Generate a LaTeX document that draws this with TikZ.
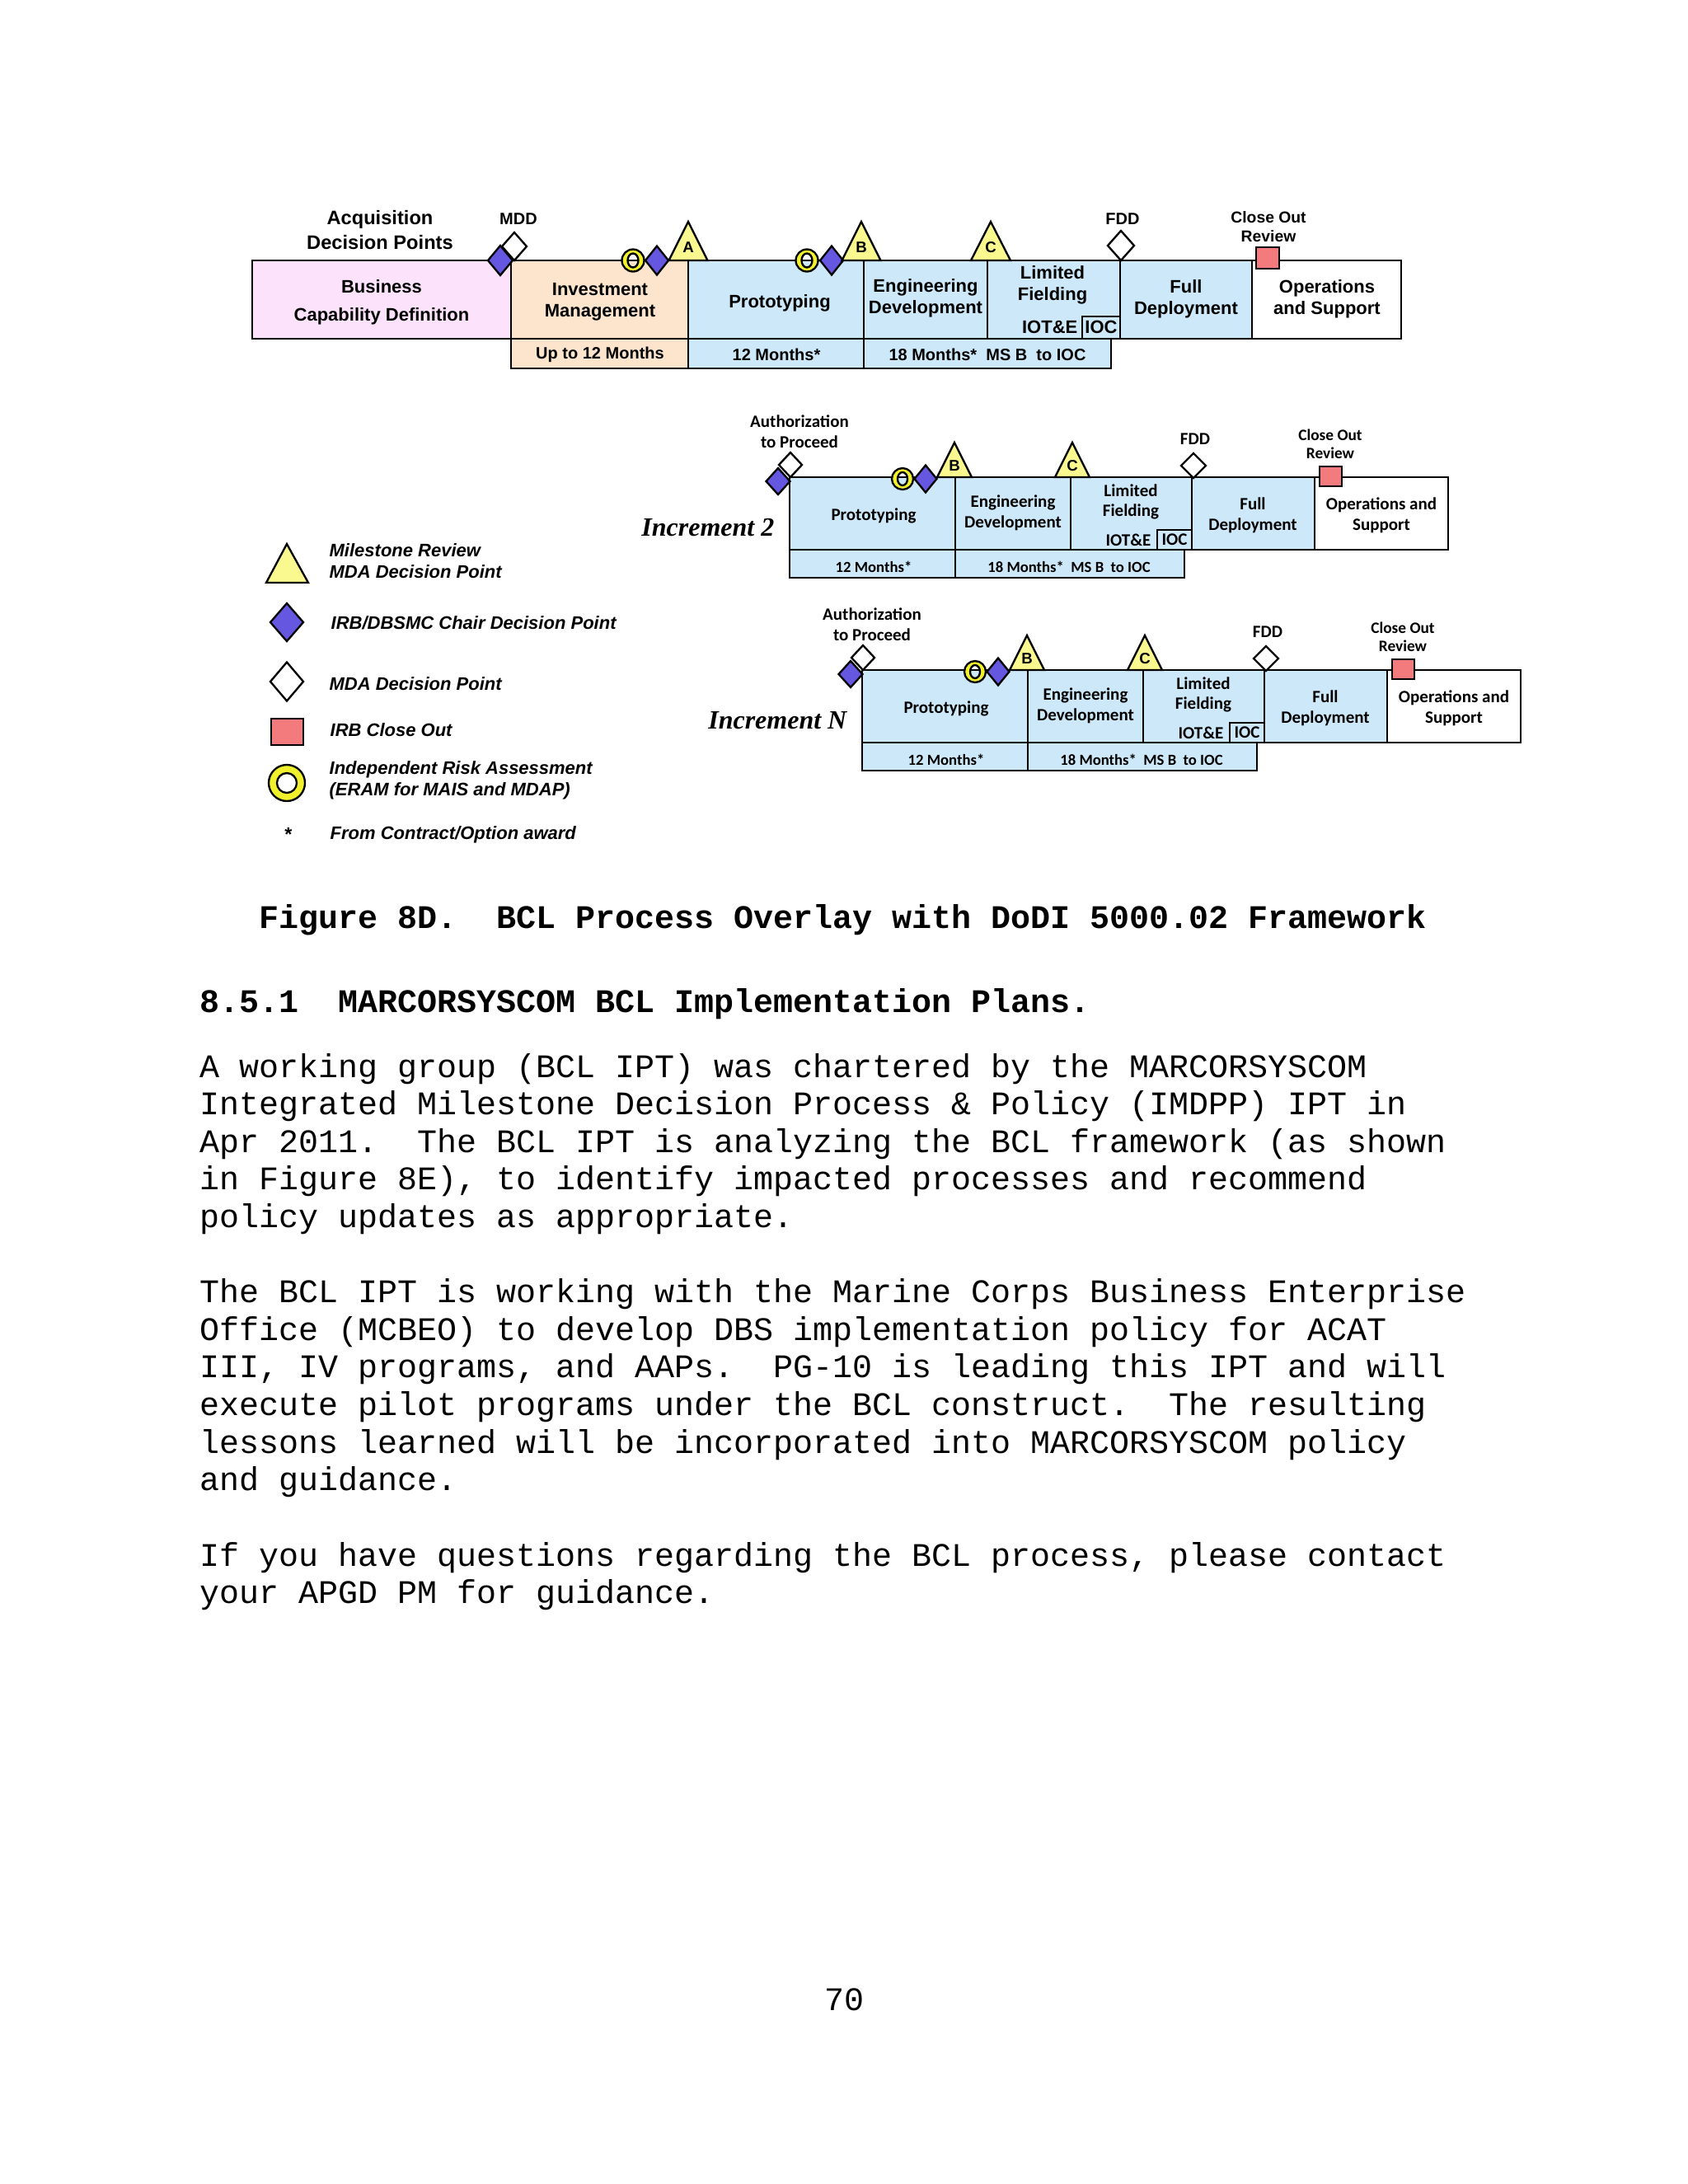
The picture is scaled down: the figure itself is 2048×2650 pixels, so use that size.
\documentclass[tikz,border=0pt]{standalone}
\usepackage{fontspec}
\usepackage{xcolor}
\setmainfont{Liberation Serif}
\newfontfamily\arialf{Liberation Sans}
\newfontfamily\califf{Carlito}
\newfontfamily\timesf{Liberation Serif}
\newfontfamily\courf{Liberation Mono}
\frenchspacing
\definecolor{pinkph}{HTML}{FDE2FB}
\definecolor{peachph}{HTML}{FCE4CD}
\definecolor{blueph}{HTML}{CCE8F9}
\definecolor{msyellow}{HTML}{FAF98F}
\definecolor{irayellow}{HTML}{F0F02C}
\definecolor{irbblue}{HTML}{6657E0}
\definecolor{closered}{HTML}{F37B7D}

% milestone triangle: x, base y, half width, height, letter
\newcommand{\mstri}[5]{%
  \draw[mstri] (#1-#3,#2) -- (#1,#2-#4) -- (#1+#3,#2) -- cycle;
  \node[mslab] (ms#5) at (#1,#2-0.33*#4) {#5};}
% decision diamond: style, x, y, half width, half height
\newcommand{\dpt}[5]{\draw[#1] (#2-#4,#3) -- (#2,#3-#5) -- (#2+#4,#3) -- (#2,#3+#5) -- cycle;}
% risk assessment ring: x, y, outer r, inner x r, inner y r
\newcommand{\iraring}[5]{\draw[iraring] (#1,#2) circle[radius=#3] (#1,#2) ellipse[x radius=#4, y radius=#5];}

\begin{document}
\begin{tikzpicture}[x=0.010542cm,y=-0.010542cm,
  box/.style={draw=black,line width=0.8pt},
  mstri/.style={draw=black,line width=0.7pt,fill=msyellow},
  mslab/.style={font=\arialf\bfseries\fontsize{5.6}{6.5}\selectfont,inner sep=0pt},
  irbdp/.style={draw=black,line width=0.7pt,fill=irbblue},
  mdadp/.style={draw=black,line width=0.7pt,fill=white},
  iraring/.style={draw=black,line width=0.7pt,fill=irayellow,even odd rule},
  closesq/.style={draw=black,line width=0.7pt,fill=closered},
  phtxt/.style={font=\arialf\bfseries\fontsize{6.6}{7.8}\selectfont,align=center,inner sep=0pt},
  mtxt/.style={font=\arialf\bfseries\fontsize{6}{7}\selectfont,inner sep=0pt},
  inctxt/.style={font=\califf\bfseries\fontsize{6.3}{7.4}\selectfont,align=center,inner sep=0pt},
  incmtxt/.style={font=\califf\bfseries\fontsize{5.6}{6.5}\selectfont,inner sep=0pt},
  inclab/.style={font=\timesf\bfseries\itshape\fontsize{9.6}{11}\selectfont,inner sep=0pt,anchor=east},
  legtxt/.style={font=\arialf\bfseries\itshape\fontsize{6.6}{7.8}\selectfont,align=left,anchor=west,inner sep=0pt},
  bodytxt/.style={font=\courf\fontsize{12}{13.65}\selectfont,anchor=base west,inner sep=0pt}]
\useasboundingbox (0,0) rectangle (2048,2650);
\fill[white] (0,0) rectangle (2048,2650);

% top row: DoDI phases
\foreach \xa/\xb/\col in {306/620/pinkph,620/835/peachph,835/1048/blueph,1048/1198/blueph,1198/1359/blueph,1359/1519/blueph,1519/1700/white}
  \draw[box,fill=\col] (\xa,316) rectangle (\xb,411);
\foreach \xa/\xb/\col in {620/835/peachph,835/1048/blueph,1048/1348/blueph}
  \draw[box,fill=\col] (\xa,411) rectangle (\xb,447);
\draw[box] (1313,384) rectangle (1359,411);
\node[phtxt,font=\arialf\bfseries\fontsize{7.1}{9}\selectfont] (acq) at (461,279) {Acquisition\\Decision Points};
\node[mtxt] (mdd) at (629,266) {MDD};
\node[phtxt] (bus) at (463,367) {Business\\[2.4pt]Capability Definition};
\node[phtxt] (inv) at (728,366) {Investment\\Management};
\node[phtxt] (proto) at (946,368) {Prototyping};
\node[phtxt] (eng) at (1123,362) {Engineering\\Development};
\node[phtxt] (lf) at (1277,346) {Limited\\Fielding};
\node[phtxt,anchor=east] (iote) at (1308,397) {IOT\&E};
\node[phtxt] (ioc) at (1336,397) {IOC};
\node[phtxt] (fd) at (1439,363) {Full\\Deployment};
\node[phtxt] (os) at (1610,363) {Operations\\and Support};
\node[mtxt] (m1) at (728,430) {Up to 12 Months};
\node[mtxt] (m2) at (942,430) {12 Months*};
\node[mtxt] (m3) at (1198,430) {18 Months*~~MS B~~to IOC};
\node[mtxt] (fdd) at (1362,266) {FDD};
\node[mtxt,align=center,font=\arialf\bfseries\fontsize{5.8}{6.9}\selectfont] (cor) at (1539,275) {Close Out\\Review};
\dpt{mdadp}{624}{299}{15}{17}
\dpt{irbdp}{607}{316}{15}{18}
\iraring{768}{316}{13.5}{6.5}{8.5}
\dpt{irbdp}{797}{316}{14}{17.5}
\mstri{835}{316}{23.5}{47}{A}
\iraring{979}{316}{13.5}{6.5}{8.5}
\dpt{irbdp}{1009}{316}{14}{17.5}
\mstri{1045}{316}{23.5}{47}{B}
\mstri{1202}{316}{24}{47}{C}
\dpt{mdadp}{1360}{298}{16}{18}
\draw[closesq] (1524,300) rectangle (1552,326);

% increments 2 and N
\foreach \dx/\dy/\inc in {0/0/2,88/234/N}{
\begin{scope}[shift={(\dx,\dy)}]
  \foreach \xa/\xb/\col in {958/1159/blueph,1159/1299/blueph,1299/1446/blueph,1446/1595/blueph,1595/1757/white}
    \draw[box,fill=\col] (\xa,579) rectangle (\xb,667);
  \foreach \xa/\xb in {958/1159,1159/1437}
    \draw[box,fill=blueph] (\xa,667) rectangle (\xb,701);
  \draw[box] (1404,643) rectangle (1446,667);
  \dpt{mdadp}{959}{564}{14}{15}
  \dpt{irbdp}{944}{584}{14.5}{16}
  \iraring{1095}{581}{13}{6}{8}
  \dpt{irbdp}{1123}{581}{13.5}{16.5}
  \mstri{1158}{579}{21}{42}{B}
  \mstri{1301}{579}{21}{42}{C}
  \dpt{mdadp}{1448}{565}{15}{15}
  \draw[closesq] (1601,566) rectangle (1628,590);
  \node[inclab] (inc\inc) at (940,640) {Increment \inc};
  \node[inctxt] (auth\inc) at (970,524) {Authorization\\to Proceed};
  \node[inctxt] (proto\inc) at (1060,626) {Prototyping};
  \node[inctxt] (eng\inc) at (1229,622) {Engineering\\Development};
  \node[inctxt] (lf\inc) at (1372,609) {Limited\\Fielding};
  \node[inctxt,anchor=east] (iote\inc) at (1397,655) {IOT\&E};
  \node[inctxt] (ioc\inc) at (1425,655) {IOC};
  \node[inctxt] (fd\inc) at (1520,625) {Full\\Deployment};
  \node[inctxt] (os\inc) at (1676,625) {Operations and\\Support};
  \node[incmtxt] (ma\inc) at (1060,688) {12 Months*};
  \node[incmtxt] (mb\inc) at (1297,688) {18 Months*~~MS B~~to IOC};
  \node[inctxt] (fdd\inc) at (1450,533) {FDD};
  \node[inctxt,font=\califf\bfseries\fontsize{5.8}{6.6}\selectfont] (cor\inc) at (1614,539) {Close Out\\Review};
\end{scope}}

% legend
\draw[mstri] (323,707) -- (348,660) -- (374,707) -- cycle;
\dpt{irbdp}{348}{755}{20}{23}
\dpt{mdadp}{348}{827}{20}{23.5}
\draw[closesq] (329,872) rectangle (368,904);
\iraring{348}{950}{22}{12}{12}
\node[legtxt] (lgms) at (399,681) {Milestone Review\\MDA Decision Point};
\node[legtxt] (lgirb) at (401,756) {IRB/DBSMC Chair Decision Point};
\node[legtxt] (lgmda) at (399,830) {MDA Decision Point};
\node[legtxt] (lgclose) at (400,886) {IRB Close Out};
\node[legtxt] (lgira) at (399,947) {Independent Risk Assessment\\(ERAM for MAIS and MDAP)};
\node[legtxt,font=\arialf\bfseries\fontsize{7}{8}\selectfont,anchor=center] (lgstar) at (350,1012) {*};
\node[legtxt] (lgcontract) at (400,1013) {From Contract/Option award};

% caption, heading and body text
\node[bodytxt,font=\courf\bfseries\fontsize{12}{13.65}\selectfont] (caption) at (314,1126) {Figure 8D.~~BCL Process Overlay with DoDI 5000.02 Framework};
\node[bodytxt,font=\courf\bfseries\fontsize{12}{13.65}\selectfont] (heading) at (242,1228) {8.5.1~~MARCORSYSCOM BCL Implementation Plans.};
\foreach \k/\t in {0/{A working group (BCL IPT) was chartered by the MARCORSYSCOM},
  1/{Integrated Milestone Decision Process \& Policy (IMDPP) IPT in},
  2/{Apr 2011.~~The BCL IPT is analyzing the BCL framework (as shown},
  3/{in Figure 8E), to identify impacted processes and recommend},
  4/{policy updates as appropriate.},
  6/{The BCL IPT is working with the Marine Corps Business Enterprise},
  7/{Office (MCBEO) to develop DBS implementation policy for ACAT},
  8/{III, IV programs, and AAPs.~~PG-10 is leading this IPT and will},
  9/{execute pilot programs under the BCL construct.~~The resulting},
  10/{lessons learned will be incorporated into MARCORSYSCOM policy},
  11/{and guidance.},
  13/{If you have questions regarding the BCL process, please contact},
  14/{your APGD PM for guidance.}}
  \node[bodytxt] (line\k) at (242,1307+45.62*\k) {\t};
\node[bodytxt,anchor=base] (pageno) at (1024,2439) {70};
\end{tikzpicture}
\end{document}
